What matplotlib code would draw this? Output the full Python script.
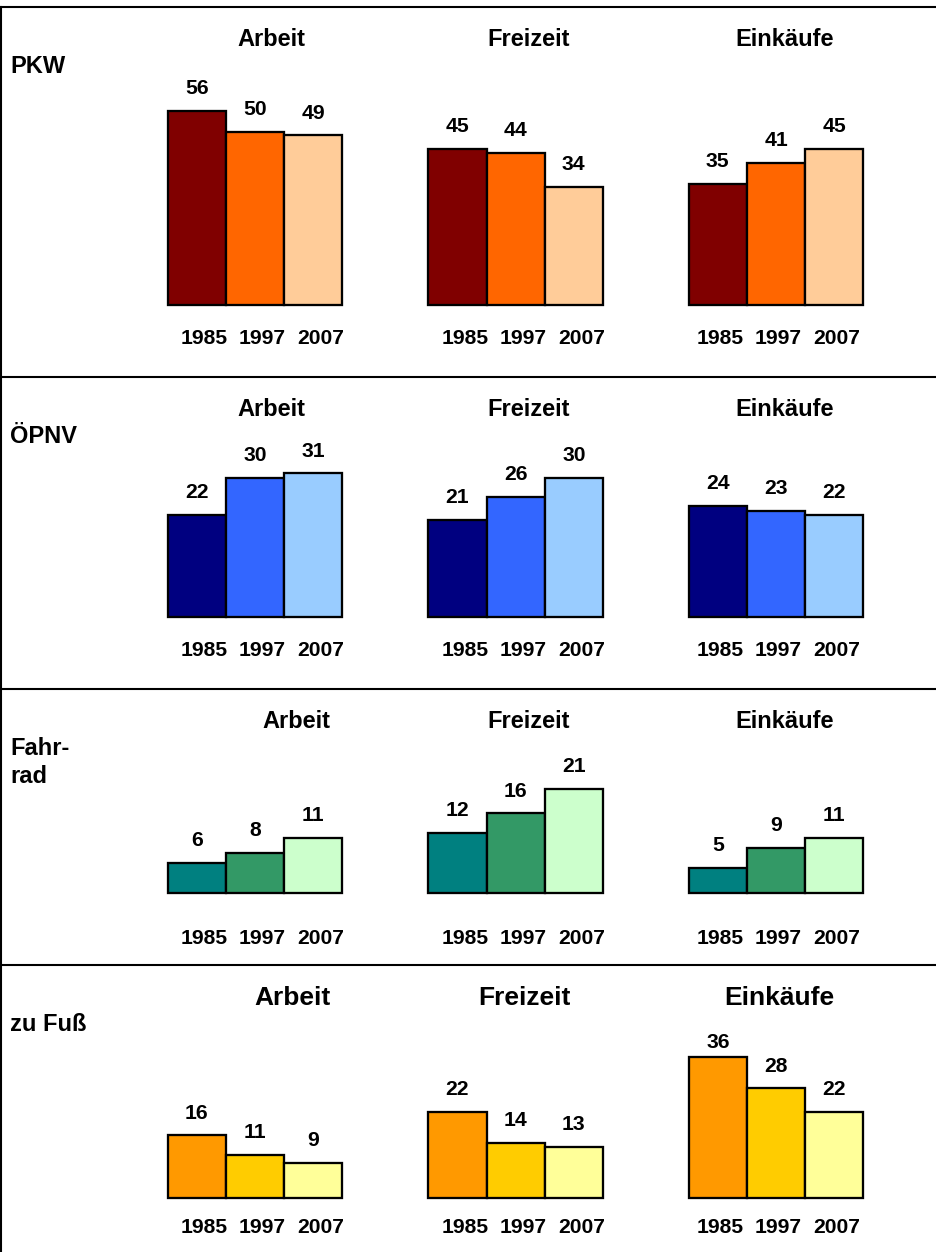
import matplotlib
matplotlib.use("Agg")
import matplotlib.pyplot as plt
from matplotlib.lines import Line2D

# ---- data -----------------------------------------------------------------
purposes = ["Arbeit", "Freizeit", "Einkäufe"]
years = ["1985", "1997", "2007"]
modes = ["PKW", "ÖPNV", "Fahr-\nrad", "zu Fuß"]

pkw = [[56, 50, 49], [45, 44, 34], [35, 41, 45]]
oepnv = [[22, 30, 31], [21, 26, 30], [24, 23, 22]]
fahrrad = [[6, 8, 11], [12, 16, 21], [5, 9, 11]]
zu_fuss = [[16, 11, 9], [22, 14, 13], [36, 28, 22]]

pkw_colors = ["#800000", "#FF6600", "#FFCC99"]
oepnv_colors = ["#000080", "#3366FF", "#99CCFF"]
fahrrad_colors = ["#008080", "#339966", "#CCFFCC"]
zu_fuss_colors = ["#FF9900", "#FFCC00", "#FFFF99"]

# ---- figure geometry (pixels) --------------------------------------------
W, H, DPI = 936, 1252, 100
PT = 72.0 / DPI  # points per pixel

plt.rcParams["font.family"] = ["Liberation Sans", "DejaVu Sans"]
fig = plt.figure(figsize=(W / DPI, H / DPI), dpi=DPI)
fig.patch.set_facecolor("white")


def fx(px):
    return px / W


def fy(py):
    return 1.0 - py / H


group_left = [167.7, 428.3, 688.7]
group_width = 174.6
year_dx = [7.0, 7.5, 2.0]
num_size = 15.2

rows = [
    dict(values=pkw, colors=pkw_colors, baseline=305.0, scale=3.465,
         title_base=45.7, title_size=17, title_x=[271.5, 528.7, 784.5],
         label_base=72.7, year_drop=39.0, ceiling=None),
    dict(values=oepnv, colors=oepnv_colors, baseline=617.0, scale=4.63,
         title_base=415.7, title_size=17, title_x=[271.5, 528.7, 784.5],
         label_base=442.7, year_drop=39.0, ceiling=None),
    dict(values=fahrrad, colors=fahrrad_colors, baseline=892.7, scale=4.96,
         title_base=728.3, title_size=17, title_x=[296.0, 528.7, 784.5],
         label_base=755.0, year_drop=51.3, ceiling=None),
    dict(values=zu_fuss, colors=zu_fuss_colors, baseline=1198.0, scale=3.92,
         title_base=1005.0, title_size=19, title_x=[292.5, 524.0, 779.8],
         label_base=1031.0, year_drop=34.7, ceiling=1048.3),
]

value_gap = 16.7  # px between bar top and label baseline
axes_h = 220.0

for mode, row in zip(modes, rows):
    # row label, one line at a time
    for k, line in enumerate(mode.split("\n")):
        fig.text(fx(10), fy(row["label_base"] + k * 28), line,
                 ha="left", va="baseline", fontsize=17, fontweight="bold")

    for g, purpose in enumerate(purposes):
        fig.text(fx(row["title_x"][g]), fy(row["title_base"]), purpose,
                 ha="center", va="baseline", fontsize=row["title_size"],
                 fontweight="bold")

        ax = fig.add_axes([fx(group_left[g]), fy(row["baseline"]),
                           group_width / W, axes_h / H])
        ax.set_xlim(-0.5, 2.5)
        ax.set_ylim(0, axes_h / row["scale"])
        ax.axis("off")

        vals = row["values"][g]
        ax.bar(range(3), vals, width=1.0, color=row["colors"],
               edgecolor="black", linewidth=1.65, clip_on=False)

        for i, v in enumerate(vals):
            ly = v + value_gap / row["scale"]
            if row["ceiling"] is not None:
                ly = min(ly, (row["baseline"] - row["ceiling"]) / row["scale"])
            ax.text(i, ly, str(v), ha="center", va="baseline",
                    fontsize=num_size, fontweight="bold", clip_on=False)
            ax.annotate(years[i], xy=(i, 0),
                        xytext=(year_dx[g] * PT, -row["year_drop"] * PT),
                        textcoords="offset points", ha="center",
                        va="baseline", fontsize=num_size, fontweight="bold",
                        annotation_clip=False)

# ---- frame lines ---------------------------------------------------------
for y in [7.0, 377.0, 689.0, 965.0]:
    fig.add_artist(Line2D([0, 1], [fy(y), fy(y)], transform=fig.transFigure,
                          color="black", linewidth=1.5))
fig.add_artist(Line2D([fx(0.8), fx(0.8)], [fy(7.0), 0], transform=fig.transFigure,
                      color="black", linewidth=1.5))

fig.savefig("out.png", dpi=DPI, facecolor="white")
